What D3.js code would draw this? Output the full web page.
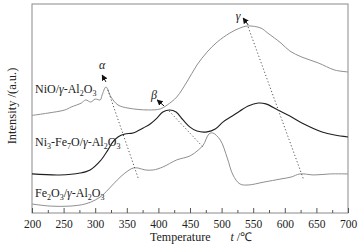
<!DOCTYPE html>
<html>
<head>
<meta charset="utf-8">
<script src="https://cdn.jsdelivr.net/npm/d3@7"></script>
<style>
  body { margin: 0; background: #fff; }
  svg { display: block; font-family: "Liberation Serif", "Times New Roman", serif; }
</style>
</head>
<body>
<div id="chart"></div>
<script>
// TPR profiles, temperature (°C) vs intensity (a.u., 0-100)
const nioT = [200, 225, 252, 262, 278, 285, 293, 300, 308, 311, 317, 325, 336, 352, 384, 403, 414, 429, 445, 461, 477, 493, 513, 529, 542, 562, 573, 594, 608, 627, 653, 679, 700];
const nioV = [46.7, 47.8, 49.3, 50.7, 52.6, 54.1, 53.1, 54.5, 54.1, 56.5, 60.3, 55.5, 51.7, 50.2, 49.3, 49.8, 51.7, 55.5, 62.7, 70.8, 77.0, 81.8, 86.1, 88.5, 89.5, 88.5, 86.1, 81.3, 77.5, 74.6, 71.8, 68.4, 67.5];

const nifeT = [200, 244, 276, 292, 308, 320, 328, 336, 347, 360, 376, 387, 398, 407, 418, 428, 439, 450, 461, 477, 490, 502, 517, 529, 542, 558, 570, 589, 608, 627, 659, 679, 700];
const nifeV = [18.7, 18.2, 19.1, 20.6, 24.9, 30.1, 34.0, 36.4, 37.8, 38.3, 40.7, 42.6, 45.5, 48.3, 49.3, 48.3, 44.5, 41.1, 39.2, 38.8, 40.2, 43.5, 46.4, 48.8, 51.2, 52.6, 52.2, 49.3, 46.4, 43.1, 38.8, 37.3, 36.4];

const feT = [200, 229, 260, 284, 300, 312, 323, 335, 347, 360, 368, 379, 392, 407, 429, 450, 463, 471, 480, 486, 498, 509, 518, 529, 542, 567, 594, 610, 624, 646, 672, 700];
const feV = [4.3, 3.3, 3.3, 4.3, 6.2, 8.6, 12.0, 15.8, 19.1, 21.5, 21.5, 20.6, 20.6, 22.0, 25.4, 27.3, 30.1, 32.5, 37.8, 38.3, 34.9, 26.3, 18.2, 13.9, 13.4, 14.8, 16.3, 17.2, 18.7, 18.2, 18.7, 18.7];

// dotted peak-shift guides: [T1, v1, T2, v2]
const guideLines = [
  [320, 58.9, 369, 15.8],
  [417, 48.8, 472, 31.1],
  [542, 89.0, 630, 15.8]
];
const peakNames = ['α', 'β', 'γ'];

const xTicks = [200, 250, 300, 350, 400, 450, 500, 550, 600, 650, 700];
const xMinorTicks = [225, 275, 325, 375, 425, 475, 525, 575, 625, 675];

const W = 362, H = 249;
const M = { top: 4, right: 14, bottom: 36, left: 32 };
const innerW = W - M.left - M.right;
const innerH = H - M.top - M.bottom;

const svg = d3.select('#chart').append('svg').attr('width', W).attr('height', H);
const g = svg.append('g').attr('transform', `translate(${M.left},${M.top})`);

const x = d3.scaleLinear().domain([200, 700]).range([0, innerW]);
const y = d3.scaleLinear().domain([0, 100]).range([innerH, 0]);

// frame
g.append('rect')
  .attr('width', innerW).attr('height', innerH)
  .attr('fill', 'none').attr('stroke', '#8a8a8a').attr('stroke-width', 1);

// x axis: inward ticks
const xAxisG = g.append('g').attr('transform', `translate(0,${innerH})`)
  .call(d3.axisBottom(x).tickValues(xTicks).tickSize(-5).tickPadding(7).tickFormat(d3.format('d')));
xAxisG.select('.domain').remove();
xAxisG.selectAll('line').attr('stroke', '#555');
xAxisG.selectAll('text').attr('font-size', '11.5px').attr('fill', '#222')
  .attr('font-family', '"Liberation Serif", "Times New Roman", serif');

const xMinorG = g.append('g').attr('transform', `translate(0,${innerH})`)
  .call(d3.axisBottom(x).tickValues(xMinorTicks).tickSize(-3).tickFormat(''));
xMinorG.select('.domain').remove();
xMinorG.selectAll('line').attr('stroke', '#555');

// axis titles
const xt = svg.append('text')
  .attr('x', 150).attr('y', 241)
  .attr('font-size', '12px').attr('fill', '#222');
xt.append('tspan').text('Temperature');
xt.append('tspan').attr('dx', 20).attr('font-style', 'italic').text('t');
xt.append('tspan').text(' /℃');

svg.append('text')
  .attr('transform', `translate(16,${M.top + 102}) rotate(-90)`)
  .attr('text-anchor', 'middle')
  .attr('font-size', '12.5px').attr('fill', '#222')
  .text('Intensity /(a.u.)');

// curves
const line = d3.line()
  .x(d => x(d[0])).y(d => y(d[1]))
  .curve(d3.curveCatmullRom.alpha(0.5));

const series = [
  { t: nioT, v: nioV, color: '#8f8f8f', w: 1 },
  { t: feT, v: feV, color: '#8f8f8f', w: 1 },
  { t: nifeT, v: nifeV, color: '#1e1e1e', w: 1.1 }
];
series.forEach(s => {
  g.append('path')
    .datum(s.t.map((t, i) => [t, s.v[i]]))
    .attr('fill', 'none')
    .attr('stroke', s.color)
    .attr('stroke-width', s.w)
    .attr('d', line);
});

// dotted guides
g.selectAll('line.guide').data(guideLines).enter().append('line')
  .attr('class', 'guide')
  .attr('x1', d => x(d[0])).attr('y1', d => y(d[1]))
  .attr('x2', d => x(d[2])).attr('y2', d => y(d[3]))
  .attr('stroke', '#444').attr('stroke-width', 0.9)
  .attr('stroke-dasharray', '1.2 2.2');

// arrows + greek peak labels
svg.append('defs').append('marker')
  .attr('id', 'ah').attr('viewBox', '0 0 10 10')
  .attr('refX', 9).attr('refY', 5)
  .attr('markerWidth', 6).attr('markerHeight', 6)
  .attr('markerUnits', 'userSpaceOnUse')
  .attr('orient', 'auto')
  .append('path').attr('d', 'M0,0 L10,5 L0,10 z').attr('fill', '#111');

const arrows = [
  [317, 62.7, 311, 66.0],
  [409, 51.2, 398, 54.1],
  [542, 90.0, 534, 93.3]
];
const greekPos = [[311, 68.9], [393, 54.5], [526, 92.3]];

g.selectAll('line.arrow').data(arrows).enter().append('line')
  .attr('x1', d => x(d[0])).attr('y1', d => y(d[1]))
  .attr('x2', d => x(d[2])).attr('y2', d => y(d[3]))
  .attr('stroke', '#111').attr('stroke-width', 1)
  .attr('marker-end', 'url(#ah)');

g.selectAll('text.greek').data(peakNames).enter().append('text')
  .attr('x', (d, i) => x(greekPos[i][0])).attr('y', (d, i) => y(greekPos[i][1]))
  .attr('text-anchor', 'middle')
  .attr('font-size', '12px').attr('font-style', 'italic').attr('fill', '#222')
  .text(d => d);

// sample labels with subscripts
const labels = [
  { T: 204.7, v: 57.4, parts: [['NiO/', 0], ['γ', 2], ['-Al', 0], ['2', 1], ['O', 0], ['3', 1]] },
  { T: 204.7, v: 32.1, parts: [['Ni', 0], ['3', 1], ['-Fe', 0], ['7', 1], ['O/', 0], ['γ', 2], ['-Al', 0], ['2', 1], ['O', 0], ['3', 1]] },
  { T: 204.7, v: 7.7, parts: [['Fe', 0], ['2', 1], ['O', 0], ['3', 1], ['/', 0], ['γ', 2], ['-Al', 0], ['2', 1], ['O', 0], ['3', 1]] }
];
labels.forEach(l => {
  const t = g.append('text')
    .attr('x', x(l.T)).attr('y', y(l.v))
    .attr('font-size', '12px').attr('fill', '#222');
  let sub = false;
  l.parts.forEach(p => {
    const ts = t.append('tspan').text(p[0]);
    if (p[1] === 1) {
      ts.attr('font-size', '8px').attr('dy', sub ? 0 : 3);
      sub = true;
    } else {
      if (sub) ts.attr('dy', -3);
      sub = false;
      if (p[1] === 2) ts.attr('font-style', 'italic');
    }
  });
});
</script>
</body>
</html>
